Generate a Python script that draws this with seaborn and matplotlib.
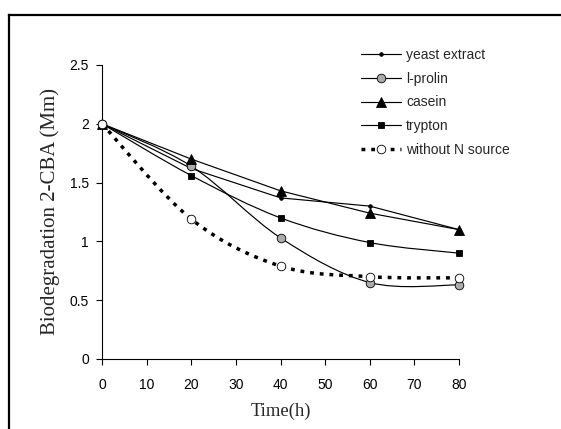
import numpy as np
import pandas as pd
import matplotlib
matplotlib.use("Agg")
import matplotlib.pyplot as plt
from matplotlib.path import Path
from matplotlib.patches import PathPatch
from matplotlib.lines import Line2D
import seaborn as sns

time_h = [0, 20, 40, 60, 80]
yeast_extract = [2.00, 1.62, 1.37, 1.30, 1.10]
l_prolin = [2.00, 1.64, 1.03, 0.65, 0.63]
casein = [2.00, 1.70, 1.43, 1.24, 1.10]
trypton = [2.00, 1.56, 1.20, 0.99, 0.90]
without_n = [2.00, 1.19, 0.79, 0.70, 0.69]

series_names = ["yeast extract", "l-prolin", "casein", "trypton", "without N source"]
x_ticks = [0, 10, 20, 30, 40, 50, 60, 70, 80]
y_ticks = [0, 0.5, 1, 1.5, 2, 2.5]
y_tick_labels = ["0", "0.5", "1", "1.5", "2", "2.5"]

sns.set_theme(style="white")
plt.rcParams["font.family"] = ["Liberation Sans", "DejaVu Sans"]

fig = plt.figure(figsize=(5.61, 4.29), dpi=100)
ax = fig.add_axes([0.1818, 0.1632, 0.6364, 0.6853])

dotted = (0, (1.1, 1.7))

# (values, marker, size, face, smooth, linestyle, lw)
styles = {
    "yeast extract": (yeast_extract, "o", 2.6, "black", False, "-", 0.85),
    "l-prolin": (l_prolin, "o", 6.2, "#ababab", True, "-", 0.85),
    "casein": (casein, "^", 6.8, "black", False, "-", 0.85),
    "trypton": (trypton, "s", 4.6, "black", True, "-", 0.85),
    "without N source": (without_n, "o", 6.2, "white", True, dotted, 2.5),
}


def smooth_path(xs, ys):
    """Cubic Bezier path through the points (spreadsheet-style smoothed line)."""
    pts = np.column_stack([xs, ys]).astype(float)
    n = len(pts)
    verts = [pts[0]]
    codes = [Path.MOVETO]
    for i in range(n - 1):
        p0 = pts[max(i - 1, 0)]
        p1 = pts[i]
        p2 = pts[i + 1]
        p3 = pts[min(i + 2, n - 1)]
        c1 = p1 + (p2 - p0) / 6.0
        c2 = p2 - (p3 - p1) / 6.0
        verts += [c1, c2, p2]
        codes += [Path.CURVE4] * 3
    return Path(verts, codes)


handles = []
for name in series_names:
    vals, mk, ms, face, smooth, ls, lw = styles[name]
    df = pd.DataFrame({"t": time_h, "v": vals})
    if smooth:
        patch = PathPatch(smooth_path(time_h, vals), facecolor="none",
                          edgecolor="black", lw=lw, linestyle=ls,
                          transform=ax.transData, zorder=2, clip_on=False)
        ax.add_patch(patch)
    else:
        sns.lineplot(data=df, x="t", y="v", ax=ax, color="black", lw=lw,
                     linestyle=ls, zorder=2)
    sns.lineplot(data=df, x="t", y="v", ax=ax, linestyle="none", marker=mk,
                 markersize=ms, markerfacecolor=face, markeredgecolor="black",
                 markeredgewidth=0.6, color="black", zorder=3, clip_on=False)
    handles.append(Line2D([0], [0], color="black", lw=lw,
                          linestyle=ls, marker=mk, markersize=ms,
                          markerfacecolor=face, markeredgecolor="black",
                          markeredgewidth=0.6, label=name))

ax.set_xlim(0, 80)
ax.set_ylim(0, 2.5)
ax.set_xticks(x_ticks)
ax.set_yticks(y_ticks)
ax.set_yticklabels(y_tick_labels)
ax.tick_params(axis="both", direction="out", length=4, width=0.8,
               colors="black", labelsize=10, bottom=True, left=True)
ax.tick_params(axis="x", pad=9.5)
ax.tick_params(axis="y", pad=5.5)
for side in ["top", "right"]:
    ax.spines[side].set_visible(False)
for side in ["left", "bottom"]:
    ax.spines[side].set_color("black")
    ax.spines[side].set_linewidth(0.8)

ax.set_xlabel("Time(h)", fontsize=13.4, family=["Liberation Serif"], labelpad=8)
ax.set_ylabel("Biodegradation 2-CBA (Mm)", fontsize=15,
              family=["Liberation Serif"], labelpad=7)

fig.legend(handles=handles, loc="upper left",
           bbox_to_anchor=(0.6335, 0.9005), frameon=False,
           fontsize=10, handlelength=2.9, handletextpad=0.36,
           labelspacing=0.69, borderaxespad=0)

# outer frame: left and top edges of the figure box
fig.add_artist(Line2D([0.0160, 0.0160], [0.0, 0.9650], transform=fig.transFigure,
                      color="black", lw=1.6, solid_capstyle="projecting"))
fig.add_artist(Line2D([0.0160, 1.0], [0.9650, 0.9650], transform=fig.transFigure,
                      color="black", lw=1.6, solid_capstyle="projecting"))

fig.savefig("out.png", dpi=100, facecolor="white")
